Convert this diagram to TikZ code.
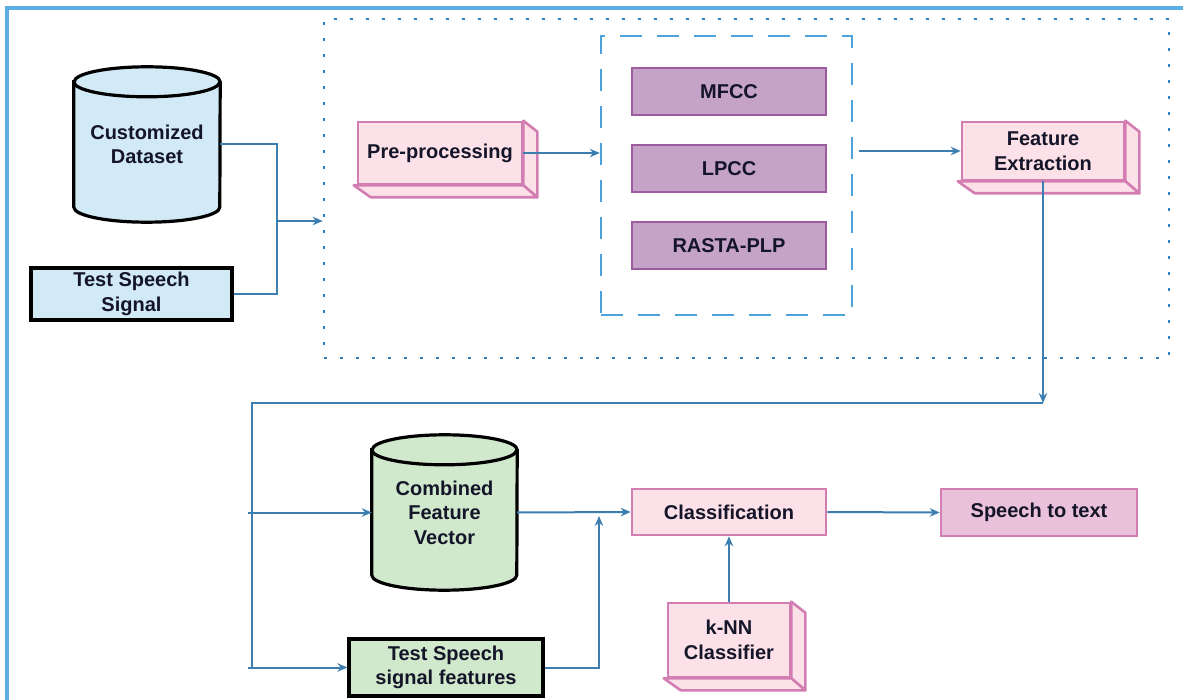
\documentclass[tikz,border=0pt]{standalone}
\usepackage{fontspec}
\setmainfont{Liberation Sans}
\usetikzlibrary{arrows.meta,backgrounds}

\definecolor{framebl}{HTML}{5DADE2}
\definecolor{dotbl}{HTML}{2F80C0}
\definecolor{dashbl}{HTML}{4EA2DC}
\definecolor{connbl}{HTML}{3D7EB0}
\definecolor{dsfill}{HTML}{D1EAF5}
\definecolor{grfill}{HTML}{D0E8CB}
\definecolor{pkfill}{HTML}{FDE1E8}
\definecolor{pkline}{HTML}{D37EB3}
\definecolor{pufill}{HTML}{C5A2C7}
\definecolor{puline}{HTML}{9D5C9F}
\definecolor{stfill}{HTML}{EAC1DB}
\definecolor{ink}{HTML}{15152A}

% cylinder outline drawn behind a text node
\newcommand{\cylbody}[3]{%
  \begin{scope}[on background layer]
    \draw[cylline, fill=#2] ([yshift=-15pt]#1.north west) -- ([yshift=15pt]#1.south west)
      arc[start angle=180, end angle=360, x radius=#3, y radius=15pt]
      -- ([yshift=-15pt]#1.north east)
      arc[start angle=0, end angle=180, x radius=#3, y radius=15pt] -- cycle;
    \draw[cylline] ([yshift=-15pt]#1.north west)
      arc[start angle=180, end angle=360, x radius=#3, y radius=15pt];
  \end{scope}}

% side and bottom faces of a box drawn in relief
\newcommand{\boxfaces}[1]{%
  \draw[faceline] (#1.north east) -- ([shift={(14,-11)}]#1.north east)
    -- ([shift={(14,-12)}]#1.south east) -- (#1.south east) -- cycle;
  \draw[faceline] ([xshift=-3pt]#1.south west) -- (#1.south east)
    -- ([shift={(14,-12)}]#1.south east) -- ([shift={(14,-12)}]#1.south west) -- cycle;}

\begin{document}
\begin{tikzpicture}[x=1pt, y=1pt,
  txt/.style={font=\fontsize{20}{24.5}\selectfont\bfseries, text=ink, align=center, inner sep=0pt},
  cylnode/.style={txt, draw=none},
  cylline/.style={draw=black, line width=3.2pt},
  darkbox/.style={txt, draw=black, line width=3.2pt},
  pinkbox/.style={txt, draw=pkline, line width=2.6pt, fill=pkfill},
  faceline/.style={draw=pkline, line width=2.6pt, fill=pkfill, line join=round},
  purplebox/.style={txt, draw=puline, line width=2.6pt, fill=pufill},
  conn/.style={draw=connbl, line width=2pt},
  arr/.style={conn, -{Stealth[length=10pt, width=8.5pt]}}
]
\useasboundingbox (0,0) rectangle (1183,-700);

% outer frame, open towards the right and bottom edges
\draw[framebl, line width=3.4pt] (7,-8) rectangle (1200,-720);

% feature extraction stage and the group of feature types
\node[draw=dotbl, line width=2.6pt, dash pattern=on 3pt off 13pt, minimum width=845, minimum height=339] (fx) at (746.5,-188.5) {};
\node[draw=dashbl, line width=2.4pt, dash pattern=on 22pt off 15pt, minimum width=251, minimum height=279] (grp) at (726.5,-175.5) {};

% inputs
\node[cylnode, minimum width=146, minimum height=155] (ds) at (147,-144.5) {Customized\\Dataset};
\cylbody{ds}{dsfill}{73pt}
\node[darkbox, fill=dsfill, minimum width=201, minimum height=52] (tss) at (131.5,-294) {Test Speech\\Signal};

% processing blocks
\node[pinkbox, minimum width=164, minimum height=62] (pre) at (440,-153) {Pre-processing};
\boxfaces{pre}
\node[purplebox, minimum width=194, minimum height=47] (mfcc) at (729,-91.5) {MFCC};
\node[purplebox, minimum width=194, minimum height=47] (lpcc) at (729,-168.5) {LPCC};
\node[purplebox, minimum width=194, minimum height=47] (rasta) at (729,-245.5) {RASTA-PLP};
\node[pinkbox, minimum width=162, minimum height=58] (fe) at (1043,-151) {Feature\\Extraction};
\boxfaces{fe}

% classification part
\node[cylnode, minimum width=145, minimum height=155] (cfv) at (444.5,-512.5) {Combined\\Feature\\Vector};
\cylbody{cfv}{grfill}{72.5pt}
\node[darkbox, fill=grfill, minimum width=194, minimum height=57] (tsf) at (446,-667.5) {Test Speech\\signal features};
\node[pinkbox, minimum width=194, minimum height=46] (cls) at (729,-512) {Classification};
\node[pinkbox, minimum width=122, minimum height=74] (knn) at (729,-640) {k-NN\\Classifier};
\boxfaces{knn}
\node[txt, draw=pkline, line width=2.6pt, fill=stfill, minimum width=196, minimum height=47] (stt) at (1039,-512.5) {Speech to text};

% junction points of the connectors
\coordinate (bus1) at (277,-294);
\coordinate (in1) at (277,-221);
\coordinate (drop) at (1043,-403);
\coordinate (busL) at (252,-403);
\coordinate (busB) at (252,-668);
\coordinate (tapA) at (248,-512.5);
\coordinate (tapB) at (248,-667.5);
\coordinate (rise) at (599,-516);

% connectors
\draw[conn] (ds.east) -| (bus1) -- (tss.east);
\draw[arr] (in1) -- (in1 -| fx.west);
\draw[arr] (pre.east) -- (pre.east -| grp.west);
\draw[arr] ([xshift=6pt]grp.east |- fe.west) -- (fe.west);
\draw[arr] (fe.south) -- (drop);
\draw[conn] (drop) -- (busL) -- (busB);
\draw[arr] (tapA) -- (cfv.west);
\draw[arr] (tapB) -- (tsf.west);
\draw[arr] (cfv.east) -- (cls.west);
\draw[arr] (tsf.east) -| (rise);
\draw[arr] (knn.north) -- (cls.south);
\draw[arr] (cls.east) -- (stt.west);
\end{tikzpicture}
\end{document}
